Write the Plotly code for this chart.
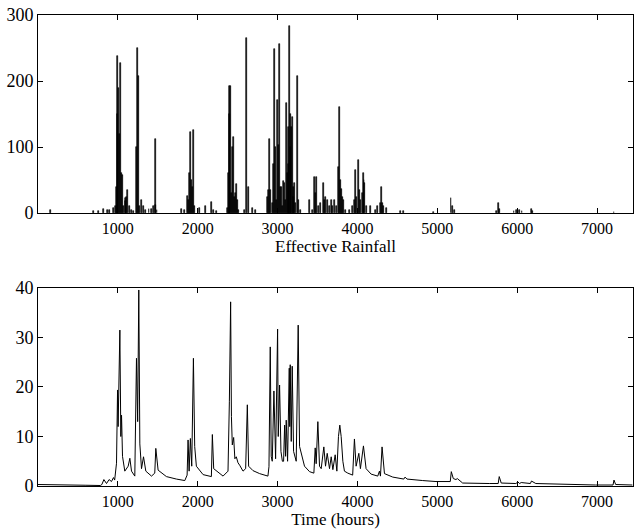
import plotly.graph_objects as go
from plotly.subplots import make_subplots

# Effective rainfall spikes (hour, value)
rain_t = [158, 700, 760, 816, 870, 900, 940, 965,
          980, 992, 1000, 1012, 1020, 1033, 1045, 1060, 1075, 1090, 1100, 1110, 1125, 1140, 1170, 1200,
          1235, 1250, 1262, 1275, 1300, 1320, 1350, 1390, 1420, 1450, 1467, 1475, 1490,
          1800, 1840, 1870, 1890, 1900, 1908, 1920, 1930, 1946, 1960, 2025, 2100, 2175, 2200, 2240,
          2370, 2385, 2392, 2400, 2408, 2420, 2435, 2446, 2460, 2475, 2483, 2495, 2510,
          2580, 2612, 2630, 2680, 2720,
          2870, 2885, 2900, 2915, 2935, 2950, 2958, 2970, 2985, 2996, 3008, 3021, 3035, 3046, 3060,
          3075, 3085, 3095, 3108, 3120, 3133, 3142, 3150, 3160, 3167, 3175, 3183, 3195, 3205, 3217,
          3230, 3246, 3260, 3290,
          3400, 3440, 3462, 3475, 3492, 3510, 3540, 3571, 3585, 3600, 3629, 3650, 3671, 3690, 3712,
          3740, 3762, 3775, 3786, 3796, 3810, 3829, 3850,
          3900, 3940, 3960, 3971, 3985, 4008, 4025, 4040, 4060, 4071, 4082, 4092, 4110, 4167, 4230,
          4254, 4290, 4304, 4315, 4330, 4358,
          4540, 4579, 4950, 5171, 5185, 5217, 5740, 5762, 5775, 5960, 5992, 6010, 6025, 6060, 6179,
          6190, 7212]
rain_v = [5, 3, 3, 6, 4, 5, 8, 10,
          40, 238, 150, 190, 120, 227, 60, 58, 10, 18, 22, 25, 35, 10, 5, 3,
          100, 250, 208, 10, 19, 10, 5, 6, 6, 10, 112, 12, 5,
          6, 4, 26, 20, 60, 122, 50, 40, 126, 10, 8, 10, 16, 5, 3,
          7, 60, 192, 150, 193, 30, 100, 115, 25, 30, 44, 20, 5,
          5, 265, 40, 8, 4,
          25, 35, 112, 35, 15, 75, 249, 100, 20, 171, 103, 256, 40, 40, 10,
          48, 45, 20, 166, 60, 75, 130, 283, 100, 150, 130, 145, 40, 25, 45,
          15, 208, 20, 5,
          19, 5, 55, 30, 55, 10, 15, 45, 20, 25, 20, 10, 20, 10, 20,
          10, 70, 161, 50, 37, 25, 20, 5,
          5, 10, 20, 65, 25, 81, 35, 20, 30, 60, 50, 45, 10, 10, 5,
          10, 15, 40, 15, 10, 8,
          3, 3, 2, 22, 10, 4, 3, 15, 6, 3, 5, 4, 5, 3, 6,
          3, 2]

# Streamflow (hour, value) read at peaks and troughs
flow_t = [0, 200, 400, 600, 780, 800, 825, 858, 890, 920, 945, 960, 983, 996, 1003, 1025, 1037,
          1046, 1058, 1087, 1129, 1150, 1171, 1212, 1233, 1248, 1262, 1275, 1296, 1321, 1350, 1421,
          1462, 1475, 1504, 1608, 1733, 1838, 1867, 1879, 1892, 1908, 1925, 1946, 1962, 1983, 2067,
          2171, 2183, 2200, 2317, 2358, 2379, 2396, 2412, 2422, 2433, 2450, 2465, 2483, 2504, 2525,
          2567, 2600, 2621, 2637, 2692, 2775, 2879, 2892, 2908, 2920, 2933, 2954, 2975, 3000, 3008,
          3025, 3042, 3060, 3075, 3088, 3100, 3108, 3125, 3146, 3152, 3158, 3171, 3183, 3200, 3233,
          3258, 3275, 3337, 3400, 3454, 3471, 3483, 3504, 3525, 3546, 3579, 3600, 3621, 3650, 3671,
          3692, 3721, 3742, 3762, 3779, 3796, 3817, 3837, 3879, 3940, 3962, 3983, 4017, 4037, 4075,
          4108, 4171, 4254, 4275, 4288, 4308, 4338, 4442, 4580, 4596, 4620, 4817, 4983, 5162, 5175,
          5200, 5233, 5250, 5317, 5650, 5762, 5775, 5800, 5983, 6010, 6030, 6050, 6165, 6179, 6233,
          6567, 6983, 7200, 7212, 7233, 7442]
flow_v = [0.3, 0.3, 0.25, 0.15, 0.1, 0.3, 1.3, 0.5, 1.3, 0.9, 1.7, 1.2, 4.6, 19.4, 12, 31.5, 10,
          14.3, 6, 3, 4, 5.6, 3, 2, 25.8, 13, 39.6, 8.5, 3.5, 5.9, 3, 2,
          2.6, 7.6, 3.2, 1.9, 1.4, 1.1, 2.2, 9.3, 3, 9.6, 4, 25.8, 8, 4, 2.3,
          1.9, 10.4, 3.5, 2, 2.6, 3, 17, 37.2, 14, 8.3, 9.8, 5.5, 5.9, 4.7, 4.2,
          3, 3.5, 16.4, 4, 3.1, 2.5, 2, 3.9, 28.1, 6, 5, 19.2, 5.5, 31.7, 10,
          20.4, 7, 5, 5, 12.3, 6, 13.3, 5, 23.8, 12, 24.5, 9, 24.2, 7, 5,
          32.5, 8, 4, 2.9, 2.6, 7.7, 4.5, 13, 4, 3.5, 7.9, 4, 6.6, 3.5, 5.9,
          3.3, 6.3, 3, 10, 12.3, 10, 5, 3, 2.6, 2.2, 9.5, 4, 6.6, 3.5, 8.1,
          3.5, 2.4, 2, 3, 2, 7.9, 2.5, 1.8, 1.4, 1.8, 1.4, 1.1, 0.9, 0.9, 2.9,
          1.5, 1.3, 1.5, 0.6, 0.5, 0.5, 1.9, 0.6, 0.5, 0.8, 0.5, 0.7, 0.5, 1.0, 0.5,
          0.3, 0.2, 0.2, 1.2, 0.3, 0.2]

x_ticks = [1000, 2000, 3000, 4000, 5000, 6000, 7000]
rain_ticks = [0, 100, 200, 300]
flow_ticks = [0, 10, 20, 30, 40]

fig = make_subplots(rows=2, cols=1, vertical_spacing=0.16)
fig.add_trace(go.Bar(x=rain_t, y=rain_v, width=12, marker=dict(color="black", line=dict(width=0.6, color="black"))), row=1, col=1)
fig.add_trace(go.Scatter(x=flow_t, y=flow_v, mode="lines", line=dict(color="black", width=1)), row=2, col=1)

fam = "Liberation Serif, Times New Roman, serif"
xfont = dict(family=fam, size=16, color="black")
yfont = dict(family=fam, size=18, color="black")
tfont = dict(family=fam, size=17, color="black")
axis_common = dict(showline=True, linecolor="black", linewidth=1, mirror="ticks", ticks="inside",
                   ticklen=5, tickcolor="black", showgrid=False, zeroline=False)
fig.update_xaxes(range=[0, 7450], tickvals=x_ticks, tickfont=xfont, ticklabelstandoff=1, **axis_common)
fig.update_xaxes(title=dict(text="Effective Rainfall", font=tfont, standoff=1), row=1, col=1)
fig.update_xaxes(title=dict(text="Time (hours)", font=tfont, standoff=1), row=2, col=1)
fig.update_yaxes(range=[0, 300], tickvals=rain_ticks, tickfont=yfont, row=1, col=1, **axis_common)
fig.update_yaxes(range=[0, 40], tickvals=flow_ticks, tickfont=yfont, row=2, col=1, **axis_common)
fig.update_layout(
    width=634, height=530, margin=dict(l=38, r=1, t=15, b=44),
    plot_bgcolor="white", paper_bgcolor="white", showlegend=False, bargap=0,
    font=dict(family=fam, color="black"),
    yaxis=dict(domain=[0.5796, 1.0]), yaxis2=dict(domain=[0.0, 0.4204]),
)
fig.write_html("out.html")
